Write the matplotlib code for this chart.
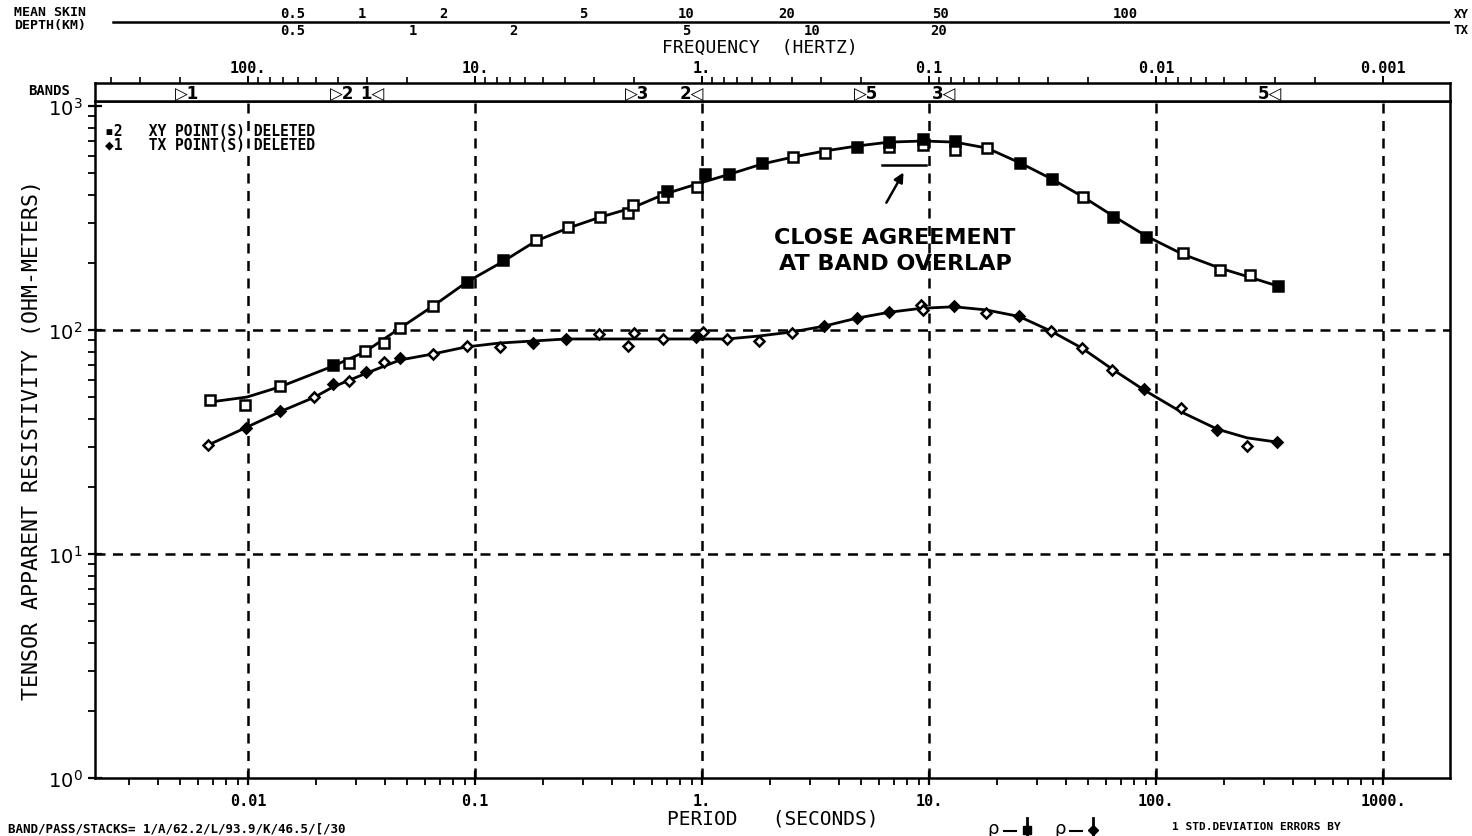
import matplotlib
matplotlib.use('Agg')
import matplotlib.pyplot as plt
import matplotlib.transforms as mtransforms
from matplotlib.ticker import FixedLocator, FixedFormatter, NullFormatter
from matplotlib.lines import Line2D
import numpy as np

# XY apparent resistivity (squares): period (s), rho (ohm-m), filled symbol flag
xy_period = [0.0068, 0.0097, 0.0138, 0.0237, 0.0278, 0.0327, 0.0397, 0.0468, 0.0654, 0.0923,
             0.133, 0.186, 0.257, 0.356, 0.472, 0.497, 0.673, 0.701, 0.951, 1.03,
             1.31, 1.84, 2.52, 3.48, 4.82, 6.67, 6.67, 9.42, 9.42, 13.0,
             13.0, 18.0, 25.2, 34.8, 47.7, 64.7, 90.4, 131, 191, 259, 345]
xy_rho = [48.7, 46.2, 56.2, 69.8, 71.3, 80.6, 87.5, 102, 128, 164,
          205, 252, 288, 319, 333, 361, 393, 417, 435, 497,
          497, 557, 592, 617, 656, 690, 656, 713, 670, 698,
          637, 649, 557, 472, 393, 319, 260, 221, 185, 176, 157]
xy_filled = [0, 0, 0, 1, 0, 0, 0, 0, 0, 1,
             1, 0, 0, 0, 0, 0, 0, 1, 0, 1,
             1, 1, 0, 0, 1, 1, 0, 1, 0, 1,
             0, 0, 1, 1, 0, 1, 1, 0, 0, 0, 1]

# TX apparent resistivity (diamonds)
tx_period = [0.00667, 0.0098, 0.0138, 0.0195, 0.0237, 0.0278, 0.0331, 0.0397, 0.0468, 0.0654,
             0.0923, 0.129, 0.180, 0.252, 0.352, 0.472, 0.501, 0.673, 0.942, 1.01,
             1.29, 1.78, 2.49, 3.44, 4.82, 6.67, 9.22, 9.4, 12.9, 17.8,
             24.9, 34.4, 47.2, 64, 88.5, 129, 186, 252, 341]
tx_rho = [30.7, 36.5, 43.5, 50.2, 57.4, 59.2, 64.9, 72, 75, 78.2,
          84.9, 84, 87.5, 91.2, 96, 84.9, 97, 91.2, 93, 98,
          91.2, 89.3, 97, 104, 113, 120, 129, 123, 128, 119,
          115, 99, 83, 66.3, 54.6, 44.9, 35.8, 30.4, 31.6]
tx_filled = [0, 1, 1, 0, 1, 0, 1, 0, 1, 0,
             0, 0, 1, 1, 0, 0, 0, 0, 1, 0,
             0, 0, 0, 1, 1, 1, 0, 0, 1, 0,
             1, 0, 0, 0, 1, 0, 1, 0, 1]

# smooth model curves
xy_fit_period = [0.00681, 0.0099, 0.0138, 0.0237, 0.0327, 0.0468, 0.0654, 0.0923, 0.1316, 0.186,
                 0.257, 0.356, 0.492, 0.687, 0.98, 1.33, 1.84, 2.52, 3.48, 4.82,
                 6.67, 9.42, 13.0, 18.0, 25.2, 34.8, 47.7, 64.7, 90.4, 131, 191, 259, 345]
xy_fit_rho = [47.7, 50.2, 55.7, 69.0, 79.8, 102, 128, 164, 201, 250,
              285, 319, 351, 405, 453, 497, 551, 592, 630, 663,
              690, 698, 690, 649, 557, 472, 393, 323, 263, 218, 189, 172, 157]
tx_fit_period = [0.0067, 0.0097, 0.0138, 0.0197, 0.0237, 0.0334, 0.0468, 0.0654, 0.0912, 0.129,
                 0.180, 0.252, 0.673, 1.02, 1.29, 1.78, 2.49, 3.44, 4.82, 6.67,
                 9.22, 12.9, 17.8, 24.9, 34.4, 47.2, 64, 88.5, 129, 186, 252, 341]
tx_fit_rho = [30.7, 36.5, 43.1, 50.2, 55.7, 64.3, 73.5, 78.2, 84, 87.5,
              89.3, 91.2, 91.2, 91.2, 91.2, 94, 98, 104, 113, 120,
              125, 127, 123, 115, 99, 83, 67, 54, 43.1, 36.1, 33, 31.6]

# period tick labels (bottom) and frequency tick labels (top)
period_ticks = [0.01, 0.1, 1, 10, 100, 1000]
period_labels = ['0.01', '0.1', '1.', '10.', '100.', '1000.']
freq_labels = ['100.', '10.', '1.', '0.1', '0.01', '0.001']

# band start / end markers along the period axis
band_marks = [(0.00538, '\u25b71'), (0.0259, '\u25b72'), (0.0352, '1\u25c1'),
              (0.518, '\u25b73'), (0.904, '2\u25c1'), (5.27, '\u25b75'),
              (11.7, '3\u25c1'), (318, '5\u25c1')]

# mean skin depth scale (km) placed at the periods where it is reached
skin_xy = [(0.0158, '0.5'), (0.0318, '1'), (0.0723, '2'), (0.299, '5'),
           (0.851, '10'), (2.37, '20'), (11.2, '50'), (72.9, '100')]
skin_tx = [(0.0158, '0.5'), (0.0533, '1'), (0.147, '2'), (0.851, '5'),
           (3.05, '10'), (11.0, '20')]

W, H = 1472, 837
MONO = 'DejaVu Sans Mono'
XLIM = (0.00212, 1972)

fig = plt.figure(figsize=(W / 100, H / 100), dpi=100)

def fx(px):
    return px / W

def fy(py):
    return 1 - py / H

# ---- main plot ----
ax = fig.add_axes([fx(95), fy(779), fx(1450) - fx(95), fy(102) - fy(779)])
ax.set_xscale('log')
ax.set_yscale('log')
ax.set_xlim(*XLIM)
ax.set_ylim(1, 1053)

ax.plot(xy_fit_period, xy_fit_rho, color='k', lw=2.0, zorder=2)
ax.plot(tx_fit_period, tx_fit_rho, color='k', lw=2.0, zorder=2)

xp, xr, xf = np.array(xy_period), np.array(xy_rho), np.array(xy_filled, dtype=bool)
tp, tr, tf = np.array(tx_period), np.array(tx_rho), np.array(tx_filled, dtype=bool)
ax.plot(xp[~xf], xr[~xf], 's', ms=6.5, mfc='white', mec='k', mew=1.8, zorder=3)
ax.plot(xp[xf], xr[xf], 's', ms=6.5, mfc='k', mec='k', mew=1.8, zorder=3)
ax.plot(tp[~tf], tr[~tf], 'D', ms=5.5, mfc='white', mec='k', mew=1.8, zorder=3)
ax.plot(tp[tf], tr[tf], 'D', ms=5.5, mfc='k', mec='k', mew=1.8, zorder=3)

# dashed decade grid
for p in period_ticks:
    ax.axvline(p, color='k', lw=1.8, ls=(0, (4, 3)), zorder=1)
for r in [10, 100]:
    ax.axhline(r, color='k', lw=1.8, ls=(0, (4, 3)), zorder=1)

ax.xaxis.set_major_locator(FixedLocator(period_ticks))
ax.xaxis.set_major_formatter(FixedFormatter(period_labels))
ax.xaxis.set_minor_formatter(NullFormatter())
ax.set_yticks([1, 10, 100, 1000])
ax.set_yticklabels(['$10^0$', '$10^1$', '$10^2$', '$10^3$'])
ax.yaxis.set_minor_formatter(NullFormatter())
ax.tick_params(which='major', direction='inout', length=10, width=1.6)
ax.tick_params(which='minor', direction='out', length=5, width=1.3)
ax.tick_params(axis='x', labelsize=11, pad=6)
ax.tick_params(axis='y', labelsize=14, pad=4)
for lab in ax.get_xticklabels():
    lab.set_family(MONO)
    lab.set_weight('bold')
for s in ax.spines.values():
    s.set_linewidth(1.8)

ax.set_xlabel('PERIOD   (SECONDS)', family=MONO, fontsize=14, labelpad=0)
ax.set_ylabel('TENSOR APPARENT RESISTIVITY (OHM-METERS)', family=MONO, fontsize=15.5,
              labelpad=4)

# annotation of the overlap between bands
ax.plot([6.21, 9.7], [546, 546], color='k', lw=1.8)
ax.annotate('', xy=(7.83, 518), xytext=(6.4, 361),
            arrowprops=dict(arrowstyle='-|>', color='k', lw=1.8, mutation_scale=14))
fig.text(fx(895), fy(251), 'CLOSE AGREEMENT\nAT BAND OVERLAP', ha='center', va='center',
         family='DejaVu Sans', weight='bold', fontsize=16, linespacing=1.4)

fig.text(fx(105), fy(131), '\u25aa2   XY POINT(S) DELETED', family=MONO, weight='bold',
         fontsize=10.5, va='center')
fig.text(fx(105), fy(145), '\u25c61   TX POINT(S) DELETED', family=MONO, weight='bold',
         fontsize=10.5, va='center')

# ---- band strip with frequency scale on top ----
axb = fig.add_axes([fx(95), fy(102), fx(1450) - fx(95), fy(84) - fy(102)])
axb.set_xscale('log')
axb.set_xlim(*XLIM)
axb.set_yticks([])
axb.xaxis.set_ticks_position('top')
axb.xaxis.set_major_locator(FixedLocator(period_ticks))
axb.xaxis.set_major_formatter(FixedFormatter(freq_labels))
freq_minor = [1.0 / (k * 10.0 ** n) for n in range(-3, 3) for k in range(2, 10)]
axb.xaxis.set_minor_locator(FixedLocator(freq_minor))
axb.xaxis.set_minor_formatter(NullFormatter())
axb.tick_params(which='major', direction='out', length=5, width=1.4, labelsize=11, pad=1)
axb.tick_params(which='minor', direction='out', length=4, width=1.2)
for lab in axb.get_xticklabels():
    lab.set_family(MONO)
    lab.set_weight('bold')
for s in axb.spines.values():
    s.set_linewidth(1.8)
trans = mtransforms.blended_transform_factory(axb.transData, axb.transAxes)
for p, lab in band_marks:
    axb.text(p, 0.45, lab, transform=trans, ha='center', va='center',
             family='DejaVu Sans', fontsize=12, weight='bold')
fig.text(fx(28), fy(91), 'BANDS', family=MONO, weight='bold', fontsize=10, va='center')

fig.text(fx(760), fy(48), 'FREQUENCY  (HERTZ)', family=MONO, fontsize=13,
         ha='center', va='center')

# ---- mean skin depth scale ----
axs = fig.add_axes([fx(95), fy(40), fx(1450) - fx(95), fy(5) - fy(40)])
axs.set_xscale('log')
axs.set_xlim(*XLIM)
axs.set_ylim(0, 1)
axs.axis('off')
axs.axhline(0.5, xmin=(113 - 95) / 1355, xmax=1.0, color='k', lw=1.8)
for p, lab in skin_xy:
    axs.text(p, 0.55, lab, ha='center', va='bottom', family=MONO, weight='bold', fontsize=10)
for p, lab in skin_tx:
    axs.text(p, 0.47, lab, ha='center', va='top', family=MONO, weight='bold', fontsize=10)
axs.text(1.008, 0.55, 'XY', transform=axs.transAxes, ha='center', va='bottom',
         family=MONO, weight='bold', fontsize=9)
axs.text(1.008, 0.47, 'TX', transform=axs.transAxes, ha='center', va='top',
         family=MONO, weight='bold', fontsize=9)
fig.text(fx(14), fy(12), 'MEAN SKIN', family=MONO, weight='bold', fontsize=9.5, va='center')
fig.text(fx(14), fy(26), 'DEPTH(KM)', family=MONO, weight='bold', fontsize=9.5, va='center')

# ---- footer ----
fig.text(fx(8), fy(829), 'BAND/PASS/STACKS= 1/A/62.2/L/93.9/K/46.5/[/30', family=MONO,
         weight='bold', fontsize=9, va='center')
fig.text(fx(993), fy(829), '\u03c1', fontsize=13, ha='center', va='center')
fig.text(fx(1060), fy(829), '\u03c1', fontsize=13, ha='center', va='center')
fig.add_artist(Line2D([fx(1004), fx(1016)], [fy(832), fy(832)], color='k', lw=1.5))
fig.add_artist(Line2D([fx(1070), fx(1082)], [fy(832), fy(832)], color='k', lw=1.5))
fig.add_artist(Line2D([fx(1027), fx(1027)], [fy(819), fy(836)], color='k', lw=2))
fig.add_artist(Line2D([fx(1093), fx(1093)], [fy(819), fy(836)], color='k', lw=2))
fig.add_artist(Line2D([fx(1027)], [fy(831)], marker='s', ms=6, color='k'))
fig.add_artist(Line2D([fx(1093)], [fy(831)], marker='D', ms=5, color='k'))
fig.text(fx(1172), fy(827), '1 STD.DEVIATION ERRORS BY', family=MONO, weight='bold',
         fontsize=8, va='center')

fig.savefig('out.png', dpi=100)
